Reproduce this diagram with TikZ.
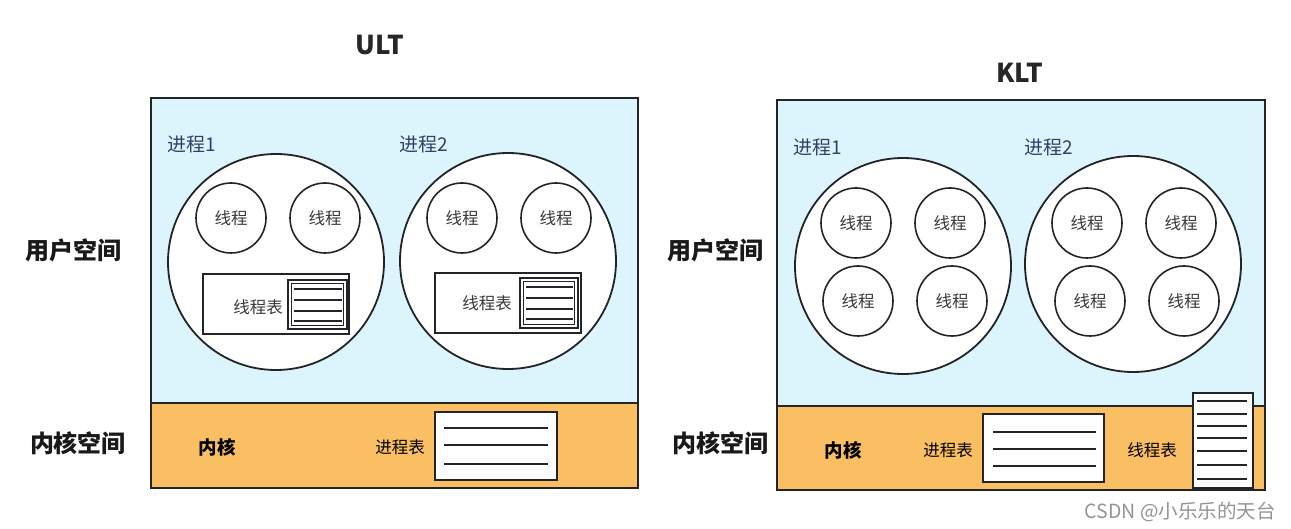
\documentclass[tikz,border=0pt]{standalone}
\usepackage{fontspec}
\setmainfont{Noto Sans CJK SC}
\definecolor{userbg}{HTML}{DCF5FD}
\definecolor{kernbg}{HTML}{FBBF63}
\definecolor{edge}{HTML}{222428}
\definecolor{plabel}{HTML}{2E4268}
\definecolor{tgray}{HTML}{3A3A3A}
\begin{document}
\begin{tikzpicture}[x=1pt,y=-1pt,
  frame/.style={draw=edge, line width=1.8pt},
  proc/.style={circle, draw=edge, fill=white, line width=1.8pt, minimum size=216pt, inner sep=0pt},
  thr/.style={circle, draw=edge, fill=white, line width=1.6pt, minimum size=70pt, inner sep=0pt, font=\fontsize{16.5}{16.5}\selectfont, text=tgray},
  plab/.style={anchor=west, inner sep=0pt, font=\fontsize{19}{19}\selectfont, text=plabel},
  side/.style={inner sep=0pt, font=\bfseries\fontsize{24}{24}\selectfont, text=black!90},
  ttl/.style={inner sep=0pt, font=\bfseries\fontsize{26}{26}\selectfont, text=black!85},
  small/.style={inner sep=0pt, font=\fontsize{16.5}{16.5}\selectfont, text=tgray},
  ktext/.style={inner sep=0pt, font=\fontsize{16.5}{16.5}\selectfont, text=black},
  kbold/.style={inner sep=0pt, font=\bfseries\fontsize{18.5}{18.5}\selectfont, text=black},
  tbl/.style={draw=edge, fill=white, line width=1.6pt},
  tline/.style={draw=edge, line width=1.5pt},
  inbox/.style={draw=edge, line width=1.0pt},
]
\useasboundingbox (0,0) rectangle (1291,529);
\fill[white] (0,0) rectangle (1291,529);

% ===== ULT =====
\node[ttl] (ult) at (380,45) {ULT};
\fill[userbg] (151,98) rectangle (638,403);
\fill[kernbg] (151,403) rectangle (638,488);
\draw[frame] (151,98) rectangle (638,488);
\draw[frame] (151,403) -- (638,403);

\node[side] (uus) at (73,250) {用户空间};
\node[side] (uks) at (78,443) {内核空间};

\node[plab] (up1) at (167,144) {进程1};
\node[plab] (up2) at (399,144) {进程2};

\node[proc] (uc1) at (276,262) {};
\node[proc] (uc2) at (508,261) {};

\node[thr] (ut1) at (231,218) {线程};
\node[thr] (ut2) at (325,218) {线程};
\node[thr] (ut3) at (462,218) {线程};
\node[thr] (ut4) at (556,218) {线程};

% thread tables in user space
\draw[tbl] (203,274) rectangle (349,334);
\draw[edge, line width=1.7pt] (288,280) rectangle (347,329);
\draw[inbox] (291.5,283.5) rectangle (343.5,325.5);
\foreach \yy in {289,300,311,321} \draw[tline] (294,\yy) -- (342,\yy);
\node[small] (utt1) at (258,307) {线程表};

\draw[tbl] (435,273) rectangle (581,333);
\draw[edge, line width=1.7pt] (520,278) rectangle (578,328);
\draw[inbox] (523.5,281.5) rectangle (574.5,324.5);
\foreach \yy in {287,298,309,319} \draw[tline] (526,\yy) -- (573,\yy);
\node[small] (utt2) at (487,303) {线程表};

% kernel
\node[kbold] (ukern) at (217,447) {内核};
\node[ktext] (uptl) at (400,447) {进程表};
\draw[tbl] (435,412) rectangle (557,480);
\foreach \yy in {428,445,464} \draw[tline] (444,\yy) -- (548,\yy);

% ===== KLT =====
\node[ttl] (klt) at (1020,73) {KLT};
\fill[userbg] (777,100) rectangle (1265,406);
\fill[kernbg] (777,406) rectangle (1265,490);
\draw[frame] (777,100) rectangle (1265,490);
\draw[frame] (777,406) -- (1265,406);

\node[side] (kus) at (715,250) {用户空间};
\node[side] (kks) at (720,443) {内核空间};

\node[plab] (kp1) at (793,147) {进程1};
\node[plab] (kp2) at (1024,147) {进程2};

\node[proc] (kc1) at (903,266) {};
\node[proc] (kc2) at (1133,264) {};

\node[thr] (kt1) at (856,223) {线程};
\node[thr] (kt2) at (950,223) {线程};
\node[thr] (kt3) at (1087,223) {线程};
\node[thr] (kt4) at (1181,223) {线程};
\node[thr] (kt5) at (858,301) {线程};
\node[thr] (kt6) at (952,301) {线程};
\node[thr] (kt7) at (1090,301) {线程};
\node[thr] (kt8) at (1184,301) {线程};

% kernel
\node[kbold] (kkern) at (843,450) {内核};
\node[ktext] (kptl) at (948,450) {进程表};
\draw[tbl] (983,414) rectangle (1104,482);
\foreach \yy in {432,449,466} \draw[tline] (993,\yy) -- (1096,\yy);

\node[ktext] (kttl) at (1152,450) {线程表};
\draw[tbl] (1193,393) rectangle (1253,488);
\foreach \yy in {401,414,426,438,451,465,479} \draw[tline] (1197,\yy) -- (1247,\yy);

% watermark
\node[anchor=east, inner sep=0pt, font=\fontsize{19.5}{19.5}\selectfont, text=black!42] (wm) at (1276,512) {CSDN @小乐乐的天台};
\end{tikzpicture}
\end{document}
